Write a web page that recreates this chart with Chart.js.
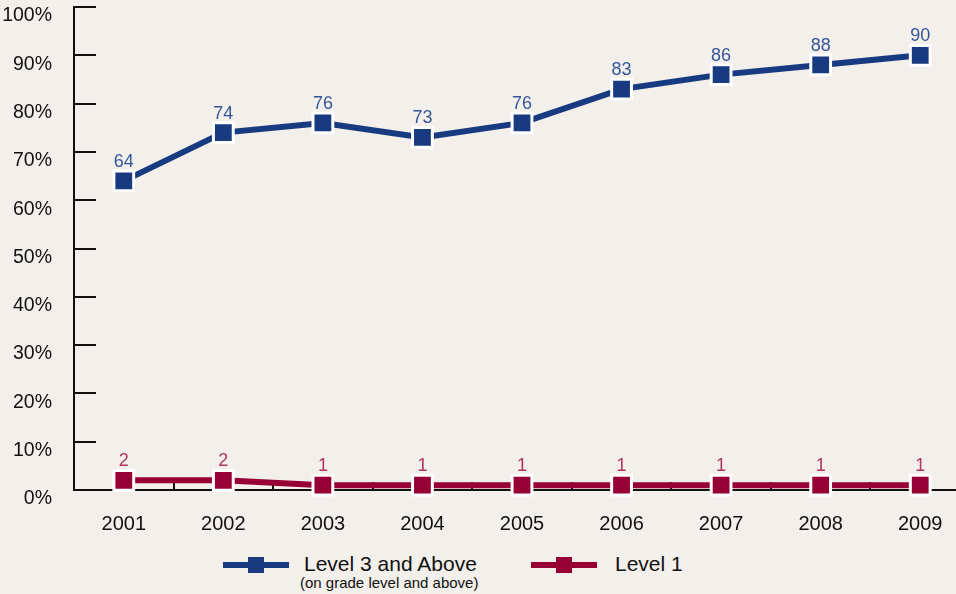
<!DOCTYPE html>
<html>
<head>
<meta charset="utf-8">
<script src="https://cdn.jsdelivr.net/npm/chart.js@4"></script>
<style>
  body { margin: 0; background: #f3efea; font-family: "Liberation Sans", Arial, sans-serif; }
  #wrap { position: relative; width: 956px; height: 594px; overflow: hidden; }
  #myChart { position: absolute; left: 0; top: 0; }
  .key { position: absolute; height: 6px; width: 66px; }
  .key i { position: absolute; left: 25px; top: -5px; width: 16px; height: 16px; }
  .lab { position: absolute; font-size: 21px; line-height: 1; color: #111; white-space: nowrap; }
  .sub { position: absolute; font-size: 15px; line-height: 1; color: #111; white-space: nowrap; }
</style>
</head>
<body>
<div id="wrap">
  <canvas id="myChart" width="970" height="540"></canvas>
  <div class="key" style="left:223px;top:562px;background:#173a80"><i style="background:#173a80"></i></div>
  <div class="lab" style="left:304px;top:553px">Level 3 and Above</div>
  <div class="sub" style="left:300px;top:575px">(on grade level and above)</div>
  <div class="key" style="left:531px;top:562px;background:#960035"><i style="background:#960035"></i></div>
  <div class="lab" style="left:615px;top:553px">Level 1</div>
</div>
<script>
let years = ['2001', '2002', '2003', '2004', '2005', '2006', '2007', '2008', '2009'];
let level3 = [64, 74, 76, 73, 76, 83, 86, 88, 90];
let level1 = [2, 2, 1, 1, 1, 1, 1, 1, 1];
let yTicks = [0, 10, 20, 30, 40, 50, 60, 70, 80, 90, 100];

const blue = '#173a80';
const red = '#960035';
const fontFam = '"Liberation Sans", Arial, sans-serif';

// tick marks drawn inside the plot, like the print version
const innerTicks = {
  id: 'innerTicks',
  beforeDatasetsDraw(chart) {
    const ctx = chart.ctx;
    const area = chart.chartArea;
    const y = chart.scales.y;
    const x = chart.scales.x;
    ctx.save();
    ctx.strokeStyle = '#111';
    ctx.lineWidth = 2;
    ctx.beginPath();
    yTicks.forEach(function (v) {
      if (v === 0) return;
      const py = Math.round(y.getPixelForValue(v));
      ctx.moveTo(area.left, py);
      ctx.lineTo(area.left + 22, py);
    });
    for (let i = 1; i < years.length; i++) {
      const px = Math.round((x.getPixelForValue(i - 1) + x.getPixelForValue(i)) / 2);
      ctx.moveTo(px, area.bottom);
      ctx.lineTo(px, area.bottom - 8);
    }
    ctx.stroke();
    ctx.restore();
  }
};

const valueLabels = {
  id: 'valueLabels',
  afterDatasetsDraw(chart) {
    const ctx = chart.ctx;
    ctx.save();
    ctx.font = '18px ' + fontFam;
    ctx.textAlign = 'center';
    ctx.textBaseline = 'alphabetic';
    chart.data.datasets.forEach(function (ds, di) {
      const meta = chart.getDatasetMeta(di);
      ctx.fillStyle = ds.labelColor;
      meta.data.forEach(function (pt, i) {
        ctx.fillText(ds.data[i], pt.x, pt.y - 14);
      });
    });
    ctx.restore();
  }
};

function noPad(s) {
  s.paddingTop = 0;
  s.paddingBottom = 0;
  s.paddingLeft = 0;
  s.paddingRight = 0;
}

let myChart = document.getElementById('myChart').getContext('2d');
let chart = new Chart(myChart, {
  type: 'line',
  data: {
    labels: years,
    datasets: [{
      label: 'Level 3 and Above',
      data: level3,
      borderColor: blue,
      backgroundColor: blue,
      labelColor: '#35569a',
      borderWidth: 6,
      pointStyle: 'rect',
      pointRadius: 14,
      pointBorderWidth: 3,
      pointBorderColor: '#ffffff',
      pointBackgroundColor: blue,
      clip: false
    },
    {
      label: 'Level 1',
      data: level1,
      borderColor: red,
      backgroundColor: red,
      labelColor: '#b0355f',
      borderWidth: 6,
      pointStyle: 'rect',
      pointRadius: 14,
      pointBorderWidth: 3,
      pointBorderColor: '#ffffff',
      pointBackgroundColor: red,
      clip: false
    }]
  },
  options: {
    responsive: false,
    devicePixelRatio: 1,
    animation: false,
    layout: { autoPadding: false, padding: { top: 7, right: 0, left: 0, bottom: 0 } },
    plugins: { legend: { display: false }, tooltip: { enabled: false } },
    scales: {
      x: {
        offset: true,
        afterFit: function (s) { s.height = 50; noPad(s); },
        grid: { display: false, offset: true },
        border: { display: true, color: '#111', width: 2 },
        ticks: { color: '#111', padding: 14, maxRotation: 0, font: { size: 20, family: fontFam } }
      },
      y: {
        min: 0,
        max: 100,
        afterFit: function (s) { s.width = 74; noPad(s); },
        afterBuildTicks: function (s) { s.ticks = yTicks.map(function (v) { return { value: v }; }); },
        grid: { display: false },
        border: { display: true, color: '#111', width: 2 },
        ticks: {
          color: '#111',
          padding: 14,
          labelOffset: 9,
          font: { size: 19.5, family: fontFam },
          callback: function (v) { return v + '%'; }
        }
      }
    }
  },
  plugins: [innerTicks, valueLabels]
});
</script>
</body>
</html>
